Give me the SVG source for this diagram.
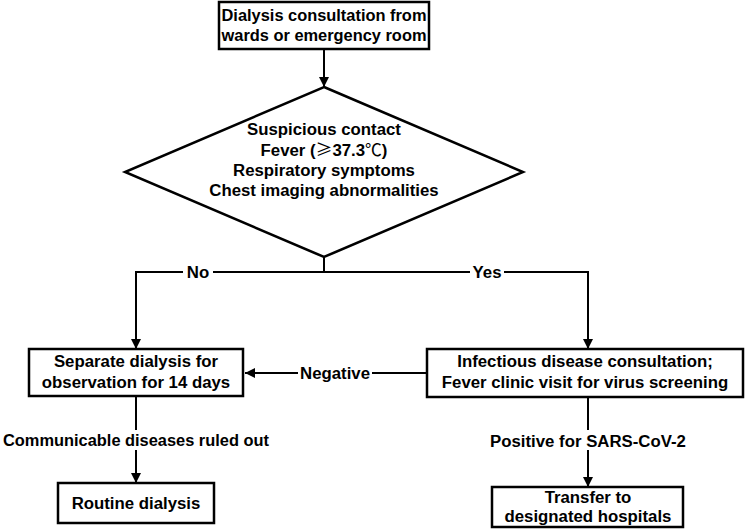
<svg xmlns="http://www.w3.org/2000/svg" width="750" height="529" viewBox="0 0 750 529">
<style>
  .box { fill: #fff; stroke: #000; stroke-width: 2.5; }
  .t { font-family: "Liberation Sans", Arial, "Noto Sans CJK SC", sans-serif; font-weight: bold; font-size: 16.8px; fill: #000; text-anchor: middle; }
  .sm { font-size: 16.4px; }
  .ln { fill: none; stroke: #000; stroke-width: 2; }
  .bg { fill: #fff; }
  .cjk { font-family: "Noto Sans CJK SC", sans-serif; font-weight: normal; }
</style>
<defs>
  <marker id="ah" viewBox="0 0 10 10" refX="10" refY="5" markerWidth="10" markerHeight="10" markerUnits="userSpaceOnUse" orient="auto">
    <path d="M0,0 L10,5 L0,10 Z" fill="#000"/>
  </marker>
</defs>
<rect width="750" height="529" fill="#fff"/>
<g id="connectors">
  <path class="ln" d="M324,49 L324,87" marker-end="url(#ah)"/>
  <path class="ln" d="M324,257 L324,272"/>
  <path class="ln" d="M136,272 L588,272"/>
  <path class="ln" d="M136,271 L136,349" marker-end="url(#ah)"/>
  <path class="ln" d="M588,271 L588,349" marker-end="url(#ah)"/>
  <path class="ln" d="M427,373 L245,373" marker-end="url(#ah)"/>
  <path class="ln" d="M136,396 L136,483" marker-end="url(#ah)"/>
  <path class="ln" d="M588,397 L588,487" marker-end="url(#ah)"/>
  <rect class="bg" x="183" y="264" width="30" height="16"/>
  <text class="t" x="198" y="278">No</text>
  <rect class="bg" x="470" y="264" width="34" height="16"/>
  <text class="t" x="487" y="278">Yes</text>
  <rect class="bg" x="298" y="364" width="74" height="18"/>
  <text class="t" x="335" y="379">Negative</text>
  <rect class="bg" x="0" y="430" width="274" height="20"/>
  <text class="t sm" x="136" y="446">Communicable diseases ruled out</text>
  <rect class="bg" x="488" y="430" width="200" height="20"/>
  <text class="t" x="588" y="447">Positive for SARS-CoV-2</text>
</g>
<g id="start">
  <rect class="box" x="219" y="2" width="210" height="47"/>
  <text class="t sm" x="324" y="21">Dialysis consultation from</text>
  <text class="t sm" x="324" y="41">wards or emergency room</text>
</g>
<g id="decision">
  <polygon class="box" points="324,87 523,172 324,257 125,172"/>
  <text class="t" x="324" y="135">Suspicious contact</text>
  <text class="t" x="324" y="156">Fever (<tspan class="cjk">≥</tspan>37.3<tspan class="cjk">℃</tspan>)</text>
  <text class="t" x="324" y="176">Respiratory symptoms</text>
  <text class="t" x="324" y="196">Chest imaging abnormalities</text>
</g>
<g id="separate">
  <rect class="box" x="29" y="349" width="214" height="47"/>
  <text class="t" x="136" y="367">Separate dialysis for</text>
  <text class="t" x="136" y="388">observation for 14 days</text>
</g>
<g id="infectious">
  <rect class="box" x="427" y="349" width="316" height="48"/>
  <text class="t" x="585" y="367">Infectious disease consultation;</text>
  <text class="t" x="585" y="388">Fever clinic visit for virus screening</text>
</g>
<g id="routine">
  <rect class="box" x="58" y="483" width="156" height="40"/>
  <text class="t" x="136" y="509">Routine dialysis</text>
</g>
<g id="transfer">
  <rect class="box" x="492" y="487" width="191" height="40"/>
  <text class="t" x="588" y="503">Transfer to</text>
  <text class="t" x="588" y="522">designated hospitals</text>
</g>
</svg>
